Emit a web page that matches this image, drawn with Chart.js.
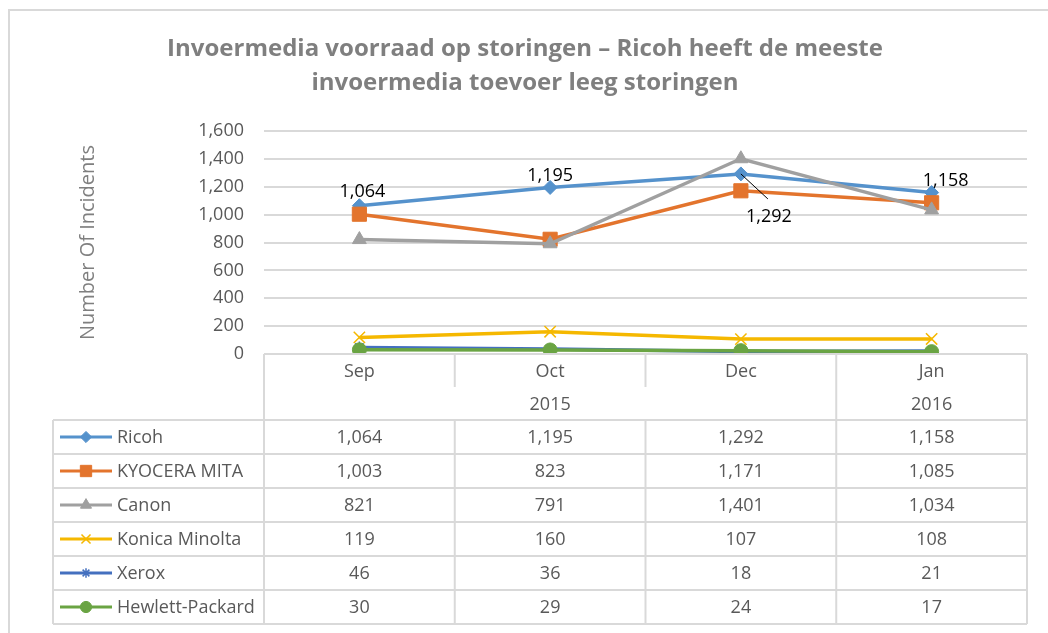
<!DOCTYPE html>
<html>
<head>
<meta charset="utf-8">
<script src="https://cdn.jsdelivr.net/npm/chart.js@4"></script>
<style>
  html, body { margin: 0; padding: 0; background: #fff; }
  #wrap { width: 1048px; height: 633px; position: relative; }
</style>
</head>
<body>
<div id="wrap"><canvas id="storingen-chart" width="1048" height="633"></canvas></div>
<script>
// ================= DATA =================
const months = ["Sep", "Oct", "Dec", "Jan"];
const years = ["2015", "2016"];
const yearSpans = [3, 1];
const seriesNames = ["Ricoh", "KYOCERA MITA", "Canon", "Konica Minolta", "Xerox", "Hewlett-Packard"];
const ricoh = [1064, 1195, 1292, 1158];
const kyocera = [1003, 823, 1171, 1085];
const canon = [821, 791, 1401, 1034];
const konica = [119, 160, 107, 108];
const xerox = [46, 36, 18, 21];
const hp = [30, 29, 24, 17];
const yTicks = [0, 200, 400, 600, 800, 1000, 1200, 1400, 1600];
const titleLines = ["Invoermedia voorraad op storingen – Ricoh heeft de meeste", "invoermedia toevoer leeg storingen"];

const seriesValues = [ricoh, kyocera, canon, konica, xerox, hp];
const seriesColors = ["#5592CC", "#E3742D", "#A0A0A0", "#F5B800", "#4470BF", "#6AA443"];
const seriesMarkers = ["rectRot", "rect", "triangle", "crossRot", "star", "circle"];
const markerSizes = [7, 10, 8, 8, 6, 7];

const FONT = "'Open Sans', 'Liberation Sans', sans-serif";
const TEXT_GRAY = "#595959";
const LINE_GRAY = "#D9D9D9";

const fmt = v => v.toLocaleString("en-US");

// ================= PLUGIN: khung, tiêu đề, bảng dữ liệu =================
const decorPlugin = {
  id: "decor",
  beforeDraw(chart) {
    const ctx = chart.ctx;
    ctx.save();
    ctx.strokeStyle = "#D9D9D9";
    ctx.lineWidth = 2;
    ctx.beginPath();
    ctx.moveTo(9, 640);
    ctx.lineTo(9, 10);
    ctx.lineTo(1060, 10);
    ctx.stroke();
    ctx.restore();
  },
  afterDraw(chart) {
    const ctx = chart.ctx;
    const x = chart.scales.x;
    const area = chart.chartArea;
    ctx.save();

    // tiêu đề
    ctx.fillStyle = "#7F7F7F";
    ctx.font = "bold 24px " + FONT;
    ctx.textAlign = "center";
    ctx.textBaseline = "middle";
    ctx.fillText(titleLines[0], 525, 49);
    ctx.fillText(titleLines[1], 525, 83);

    // bảng dữ liệu
    const left = 53, colLeft = area.left, right = area.right;
    const top = area.bottom, rowH1 = 33, rowH = 34;
    const yearTop = top + rowH1, bodyTop = yearTop + rowH1;
    const bottom = bodyTop + rowH * seriesNames.length;
    const colW = (right - colLeft) / months.length;

    ctx.strokeStyle = LINE_GRAY;
    ctx.lineWidth = 2;
    ctx.beginPath();
    ctx.moveTo(colLeft, top); ctx.lineTo(right, top);
    ctx.moveTo(colLeft, top); ctx.lineTo(colLeft, bottom);
    ctx.moveTo(right, top); ctx.lineTo(right, bottom);
    ctx.moveTo(left, bodyTop); ctx.lineTo(left, bottom);
    for (let i = 1; i < months.length; i++) {
      const cx = colLeft + colW * i;
      ctx.moveTo(cx, top); ctx.lineTo(cx, yearTop);
      ctx.moveTo(cx, bodyTop); ctx.lineTo(cx, bottom);
    }
    // vạch chia năm
    let acc = 0;
    yearSpans.forEach((span, i) => {
      acc += span;
      if (i < yearSpans.length - 1) {
        const cx = colLeft + colW * acc;
        ctx.moveTo(cx, yearTop); ctx.lineTo(cx, bodyTop);
      }
    });
    for (let r = 0; r <= seriesNames.length; r++) {
      const yy = bodyTop + rowH * r;
      ctx.moveTo(left, yy); ctx.lineTo(right, yy);
    }
    ctx.stroke();

    ctx.fillStyle = TEXT_GRAY;
    ctx.font = "18px " + FONT;
    ctx.textAlign = "center";
    months.forEach((m, i) => {
      ctx.fillText(m, x.getPixelForValue(i), top + rowH1 / 2 + 1);
    });
    acc = 0;
    years.forEach((yr, i) => {
      const cx = colLeft + colW * (acc + yearSpans[i] / 2);
      acc += yearSpans[i];
      ctx.fillText(yr, cx, yearTop + rowH1 / 2 + 1);
    });

    chart.data.datasets.forEach((ds, r) => {
      const cy = bodyTop + rowH * r + rowH / 2;
      ds.data.forEach((v, i) => {
        ctx.fillStyle = TEXT_GRAY;
        ctx.textAlign = "center";
        ctx.fillText(fmt(v), x.getPixelForValue(i), cy + 1);
      });
      // chú thích
      ctx.strokeStyle = ds.borderColor;
      ctx.fillStyle = ds.borderColor;
      ctx.lineWidth = 3;
      ctx.beginPath();
      ctx.moveTo(60, cy); ctx.lineTo(112, cy);
      ctx.stroke();
      ctx.lineWidth = ds.pointBorderWidth;
      Chart.helpers.drawPoint(ctx, {
        pointStyle: ds.pointStyle,
        radius: markerSizes[r] * 0.8,
        borderWidth: ds.pointBorderWidth
      }, 86, cy);
      ctx.fillStyle = TEXT_GRAY;
      ctx.textAlign = "left";
      ctx.fillText(ds.label, 117, cy + 1);
    });

    // nhãn dữ liệu Ricoh
    const meta = chart.getDatasetMeta(0);
    const offsets = [[3, -14], [0, -12], [28, 43], [14, -12]];
    ctx.font = "18px " + FONT;
    ctx.textAlign = "center";
    meta.data.forEach((pt, i) => {
      const [dx, dy] = offsets[i];
      if (i === 2) {
        ctx.strokeStyle = "#000";
        ctx.lineWidth = 1;
        ctx.beginPath();
        ctx.moveTo(pt.x, pt.y);
        ctx.lineTo(pt.x + 27, pt.y + 25);
        ctx.stroke();
      }
      ctx.fillStyle = "#000";
      ctx.fillText(fmt(ricoh[i]), pt.x + dx, pt.y + dy);
    });
    ctx.restore();
  }
};

// ================= BIỂU ĐỒ ĐƯỜNG =================
const ctx = document.getElementById("storingen-chart").getContext("2d");

const datasets = seriesNames.map((name, i) => ({
  label: name,
  data: seriesValues[i],
  borderColor: seriesColors[i],
  backgroundColor: seriesColors[i],
  pointStyle: seriesMarkers[i],
  pointRadius: markerSizes[i],
  pointHoverRadius: markerSizes[i],
  pointBorderWidth: (seriesMarkers[i] === "crossRot" || seriesMarkers[i] === "star") ? 1.5 : 1,
  pointBorderColor: seriesColors[i],
  borderWidth: 3.5,
  tension: 0,
  fill: false,
  order: seriesNames.length - i
}));

new Chart(ctx, {
  type: "line",
  data: { labels: months, datasets: datasets },
  plugins: [decorPlugin],
  options: {
    responsive: false,
    animation: false,
    devicePixelRatio: 1,
    layout: { padding: { left: 0, top: 131, right: 21, bottom: 279 } },
    plugins: {
      legend: { display: false },
      tooltip: { enabled: false },
      title: { display: false }
    },
    scales: {
      x: {
        offset: true,
        grid: { display: false, drawTicks: false },
        border: { display: false },
        ticks: { display: false }
      },
      y: {
        min: 0,
        max: 1600,
        afterBuildTicks: axis => { axis.ticks = yTicks.map(v => ({ value: v })); },
        afterFit: axis => { axis.width = 264; },
        grid: { color: LINE_GRAY, lineWidth: 2, drawTicks: false },
        border: { display: false },
        ticks: {
          color: TEXT_GRAY,
          padding: 20,
          font: { family: FONT, size: 18 },
          callback: v => fmt(v)
        },
        title: {
          display: true,
          text: "Number Of Incidents",
          color: "#7F7F7F",
          font: { family: FONT, size: 20 },
          padding: { top: 76, bottom: 0 }
        }
      }
    }
  }
});
</script>
</body>
</html>
